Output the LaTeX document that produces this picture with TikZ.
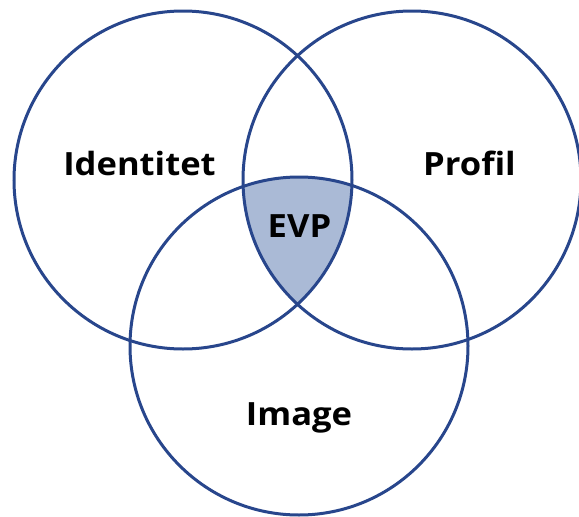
\documentclass[tikz,border=0pt]{standalone}
\usepackage{fontspec}
\setmainfont{Open Sans}[FakeStretch=1.08]
\definecolor{vennblue}{RGB}{40,70,140}
\definecolor{evpfill}{RGB}{170,186,214}
\tikzset{
  venn/.style={draw=vennblue, line width=3pt},
  lbl/.style={font=\bfseries\fontsize{32}{36}\selectfont, text=black, inner sep=0pt, anchor=base}
}
\begin{document}
\begin{tikzpicture}[x=1pt,y=-1pt]
  \useasboundingbox (0,0) rectangle (579,517);
  \clip (0,0) rectangle (579,517);
  \coordinate (cL) at (183,180);
  \coordinate (cR) at (412,180);
  \coordinate (cB) at (299,346);
  \begin{scope}
    \clip (cL) circle[radius=169];
    \clip (cR) circle[radius=169];
    \fill[evpfill] (cB) circle[radius=169];
  \end{scope}
  \draw[venn] (cL) circle[radius=169];
  \draw[venn] (cR) circle[radius=169];
  \draw[venn] (cB) circle[radius=169];
  \node[lbl] (identitet) at (139.5,175) {Identitet};
  \node[lbl] (profil) at (469.5,175) {Profil};
  \node[lbl] (evp) at (299.5,237) {EVP};
  \node[lbl] (image) at (299,425) {Image};
\end{tikzpicture}
\end{document}
